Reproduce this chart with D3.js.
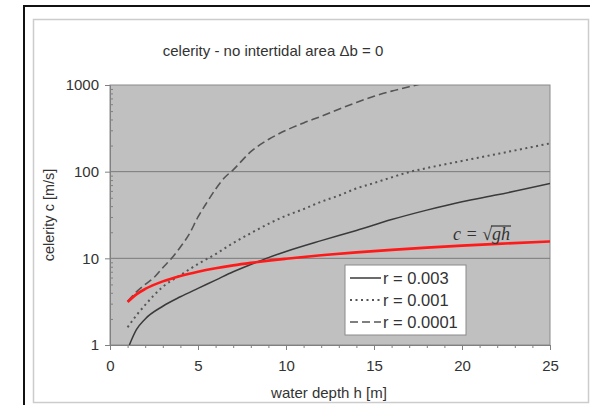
<!DOCTYPE html>
<html>
<head>
<meta charset="utf-8">
<script src="https://cdn.jsdelivr.net/npm/d3@7"></script>
<style>
  body { margin: 0; background: #fff; }
  text { font-family: "Liberation Sans", Arial, sans-serif; fill: #333; }
</style>
</head>
<body>
<script>
// water depth h [m] and celerity c [m/s]
var depthSqrt = [1, 1.5, 2, 3, 4, 5, 6, 7, 8, 9, 10, 12, 14, 16, 18, 20, 22, 25];
var cSqrt     = [3.13, 3.84, 4.43, 5.42, 6.26, 7.0, 7.67, 8.29, 8.86, 9.4, 9.9, 10.85, 11.72, 12.53, 13.29, 14.0, 14.69, 15.66];

var depth003 = [1.1, 1.5, 2, 3, 4, 5, 6, 7, 8, 9, 10, 12, 14, 16, 18, 20, 22, 25];
var c003     = [1.0, 1.5, 2.0, 2.8, 3.6, 4.5, 5.6, 7.0, 8.5, 10.2, 12, 16, 21, 28, 36, 45, 54, 73];

var depth001 = [1, 1.5, 2, 3, 4, 5, 6, 7, 8, 9, 10, 11, 12, 13, 14, 15, 16, 17, 18, 20, 22, 25];
var c001     = [1.6, 2.2, 2.9, 4.7, 6.4, 8.6, 11.2, 15, 19.5, 25, 31, 37, 45, 53, 64, 74, 86, 99, 110, 133, 160, 212];

var depth0001 = [1, 1.5, 2, 2.5, 3, 3.5, 4, 4.5, 5, 5.5, 6, 6.5, 7, 8, 9, 10, 11, 12, 13, 14, 15, 16, 17, 18];
var c0001     = [3.2, 4.1, 5.0, 6.0, 7.8, 10, 13.5, 19, 30, 44, 63, 85, 105, 170, 235, 300, 365, 435, 525, 630, 740, 850, 955, 1070];

var xTicks = [0, 5, 10, 15, 20, 25];
var yTicks = [1, 10, 100, 1000];
var legendLabels = ["r = 0.003", "r = 0.001", "r = 0.0001"];

var margin = {top: 85, right: 40, bottom: 60, left: 110},
    width = 440,
    height = 260;

var svg = d3.select("body").append("svg")
  .attr("width", 590)
  .attr("height", 405);

// frames
svg.append("rect").attr("x", 24).attr("y", 6).attr("width", 600).attr("height", 420)
  .attr("fill", "none").attr("stroke", "#111").attr("stroke-width", 2);
svg.append("rect").attr("x", 33.5).attr("y", 19.5).attr("width", 555).attr("height", 383)
  .attr("fill", "none").attr("stroke", "#ccc").attr("stroke-width", 1.5);

var x = d3.scaleLinear().domain([0, 25]).range([0, width]);
var y = d3.scaleLog().domain([1, 1000]).range([height, 0]);

var g = svg.append("g")
  .attr("transform", "translate(" + margin.left + "," + margin.top + ")");

// plot area
g.append("rect").attr("width", width).attr("height", height)
  .attr("fill", "#c0c0c0").attr("stroke", "#8a8a8a");

// gridlines
g.selectAll(".grid").data([10, 100]).enter().append("line")
  .attr("x1", 0).attr("x2", width)
  .attr("y1", function(d) { return y(d); }).attr("y2", function(d) { return y(d); })
  .attr("stroke", "#7a7a7a").attr("stroke-width", 1);

g.append("clipPath").attr("id", "clip").append("rect")
  .attr("width", width).attr("height", height);

// axes
var minorY = [];
[1, 10, 100].forEach(function(d) { for (var k = 2; k < 10; k++) minorY.push(d * k); });
var minorX = d3.range(0, 26);

var yMinor = g.append("g").call(d3.axisLeft(y).tickValues(minorY).tickSizeInner(-3).tickSizeOuter(0).tickFormat(""));
var yAxis = g.append("g").call(d3.axisLeft(y).tickValues(yTicks).tickSizeInner(5).tickSizeOuter(0).tickFormat(d3.format("d")).tickPadding(6));
var xMinor = g.append("g").attr("transform", "translate(0," + height + ")")
  .call(d3.axisBottom(x).tickValues(minorX).tickSizeInner(3).tickSizeOuter(0).tickFormat(""));
var xAxis = g.append("g").attr("transform", "translate(0," + height + ")")
  .call(d3.axisBottom(x).tickValues(xTicks).tickSizeInner(5).tickSizeOuter(0).tickPadding(10));

[yMinor, yAxis, xMinor, xAxis].forEach(function(a) {
  a.selectAll("path, line").attr("stroke", "#808080");
  a.selectAll("text").style("font-size", "15px").attr("fill", "#333");
});

// lines
var line = d3.line()
  .x(function(d) { return x(d[0]); })
  .y(function(d) { return y(d[1]); })
  .curve(d3.curveMonotoneX);

var series = [
  {h: depth003, c: c003, color: "#3a3a3a", dash: null, w: 1.5},
  {h: depth001, c: c001, color: "#555", dash: "2,3.5", w: 2},
  {h: depth0001, c: c0001, color: "#555", dash: "8,4", w: 1.6},
  {h: depthSqrt, c: cSqrt, color: "#ff1a1a", dash: null, w: 2.6}
];

var lines = g.append("g").attr("clip-path", "url(#clip)");
series.forEach(function(s) {
  lines.append("path")
    .datum(d3.zip(s.h, s.c))
    .attr("fill", "none")
    .attr("stroke", s.color)
    .attr("stroke-width", s.w)
    .attr("stroke-dasharray", s.dash)
    .attr("d", line);
});

// c = sqrt(gh) label
var lab = svg.append("text")
  .attr("x", 453).attr("y", 240)
  .style("font-family", "'Liberation Serif', 'Times New Roman', serif")
  .style("font-style", "italic")
  .style("font-size", "18px")
  .attr("fill", "#333");
lab.append("tspan").text("c = ");
lab.append("tspan").text("√").style("font-style", "normal");
lab.append("tspan").text("gh");
var node = lab.node();
var n = node.getNumberOfChars();
var ox0 = node.getStartPositionOfChar(n - 2).x;
var ox1 = node.getEndPositionOfChar(n - 1).x;
svg.append("line").attr("x1", ox0 - 1).attr("x2", ox1 + 1)
  .attr("y1", 226).attr("y2", 226)
  .attr("stroke", "#333").attr("stroke-width", 1.2);

// legend
var legend = svg.append("g").attr("transform", "translate(345,265)");
legend.append("rect").attr("width", 121).attr("height", 70)
  .attr("fill", "#fff").attr("stroke", "#8a8a8a");
legendLabels.forEach(function(t, i) {
  var s = series[i];
  var ly = 13 + i * 22;
  legend.append("line").attr("x1", 5).attr("x2", 36).attr("y1", ly).attr("y2", ly)
    .attr("stroke", s.color).attr("stroke-width", s.w).attr("stroke-dasharray", s.dash);
  legend.append("text").attr("x", 38).attr("y", ly + 6).style("font-size", "16.5px").text(t);
});

// titles
svg.append("text").attr("x", 273).attr("y", 56).attr("text-anchor", "middle")
  .style("font-size", "15px").text("celerity - no intertidal area \u0394b = 0");
svg.append("text").attr("x", 329).attr("y", 398).attr("text-anchor", "middle")
  .style("font-size", "15px").text("water depth h [m]");
svg.append("text").attr("transform", "translate(54,215) rotate(-90)").attr("text-anchor", "middle")
  .style("font-size", "14.5px").text("celerity c [m/s]");
</script>
</body>
</html>
